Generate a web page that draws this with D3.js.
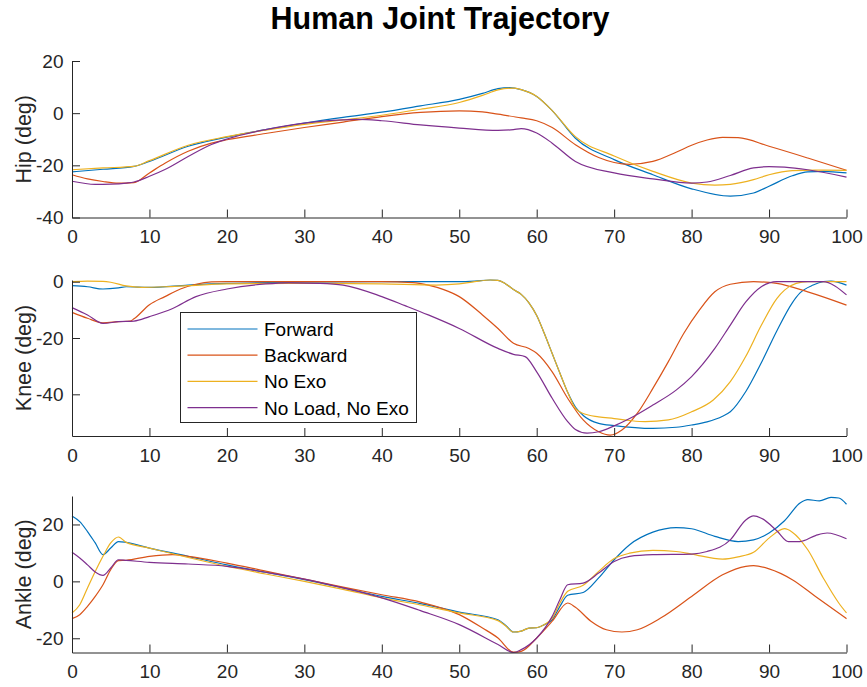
<!DOCTYPE html>
<html>
<head>
<meta charset="utf-8">
<script src="https://cdn.jsdelivr.net/npm/d3@7"></script>
<style>
    body { margin: 0; background: #fff; }
    svg { display: block; font-family: "Liberation Sans", Arial, Helvetica, sans-serif; }
</style>
</head>
<body>
<svg id="chart"></svg>
<script>
const width = 867;
const height = 687;

const seriesNames = ['Forward', 'Backward', 'No Exo', 'No Load, No Exo'];
const colors = ['#0072BD', '#D95319', '#EDB120', '#7E2F8E'];
const xTicks = [0, 10, 20, 30, 40, 50, 60, 70, 80, 90, 100];

// hip angle (deg) vs gait cycle (%)
const hipForward = [[0,-22.5],[4,-21.5],[8,-20.4],[10,-18.5],[15,-12.7],[20,-9.2],[25,-6.3],[30,-3.8],[35,-1.6],[40,0.4],[45,2.8],[50,5.3],[53,7.6],[55,9.4],[56.5,9.8],[58,9.0],[60,6.4],[62,1.0],[65,-9.6],[70,-17.8],[75,-23.6],[80,-29],[85,-31.8],[88,-30.6],[90,-28],[93,-24],[95,-22.5],[97,-22.3],[100,-22.9]];
const hipBackward = [[0,-23.6],[2,-25.2],[4,-26.2],[6,-26.8],[8,-26.6],[10,-22.9],[12,-19.2],[15,-14.6],[18,-11.5],[20,-10.2],[25,-7.8],[30,-5.5],[35,-3.4],[40,-1.3],[45,0.3],[50,0.9],[53,0.5],[55,-0.4],[58,-1.8],[60,-2.9],[62,-5.5],[65,-12.1],[68,-17],[70,-18.9],[72,-19.6],[75,-18.5],[78,-15],[80,-12.3],[82,-10.3],[84,-9.3],[86,-9.4],[90,-12.7],[95,-17.2],[100,-21.9]];
const hipNoExo = [[0,-21.7],[4,-21],[8,-20.4],[10,-18.2],[15,-12.3],[20,-9.0],[25,-6.5],[30,-4.3],[35,-2.6],[40,-0.8],[45,1.5],[50,4.1],[53,6.8],[55,8.9],[57,9.6],[58,9.0],[60,6.4],[62,1.0],[65,-9.0],[70,-16.4],[75,-22.3],[80,-26.8],[83,-27.6],[85,-27.3],[88,-25.5],[90,-23.6],[93,-22.0],[96,-21.8],[100,-21.9]];
const hipNoLoad = [[0,-26.1],[3,-27.3],[5,-27.2],[7,-26.8],[8,-26.4],[10,-24.2],[12,-21.6],[15,-16.6],[18,-12],[20,-9.9],[25,-6.3],[30,-3.8],[35,-2.6],[37,-2.4],[40,-2.9],[45,-4.5],[50,-5.7],[55,-6.6],[57,-6.3],[58,-5.9],[60,-7.6],[62,-11.5],[65,-18.5],[70,-22.9],[75,-25.2],[80,-26.8],[82,-26.4],[85,-23.9],[88,-21],[90,-20.5],[92,-20.7],[95,-21.7],[100,-24.5]];

// knee angle (deg)
const kneeForward = [[0,-1.4],[2,-1.8],[4,-2.6],[6,-2.2],[7,-1.8],[10,-2.0],[15,-1.2],[20,-0.6],[30,-0.2],[40,0],[50,0],[52,0.2],[54,0.6],[55,0.5],[56,-0.8],[57,-2.8],[58,-4.5],[59,-7.5],[60,-12],[61,-18.5],[62,-25.5],[63,-32.5],[64,-39.3],[65,-44.5],[66,-47.5],[68,-50.3],[70,-51.1],[75,-52.1],[78,-51.7],[80,-50.9],[82,-49.8],[84,-47.8],[85,-46.2],[87,-39],[89,-28.8],[91,-17.5],[93,-7.5],[94,-4],[95.7,-1.2],[97,0],[98,0.2],[100,-1.2]];
const kneeBackward = [[0,-10.9],[2,-13],[4,-14.6],[6,-14.2],[7.5,-14],[8,-13.2],[10,-8.2],[12,-5.3],[14,-2.6],[16,-0.9],[18,-0.1],[20,0],[30,0],[40,0],[44,-0.3],[46,-1.2],[48,-2.8],[50,-5.3],[53,-11.8],[55,-16.6],[57,-21.9],[59,-23.7],[60,-25.4],[62,-32],[64,-41.4],[66,-49.1],[68,-53.3],[69.5,-54.5],[71,-52.7],[73,-46.7],[75,-37.9],[77,-28.4],[79,-18.3],[81,-10.1],[83,-3.6],[85,-0.9],[88,0],[91,-0.6],[95,-3.6],[100,-8.3]];
const kneeNoExo = [[0,0],[2,0.2],[4,0.1],[5,-0.2],[7,-1.5],[9,-2],[12,-1.8],[15,-1.4],[20,-0.8],[30,-0.6],[40,-0.8],[47,-1.2],[50,-0.8],[52,0],[54,0.6],[55,0.5],[56,-0.8],[57,-2.8],[58,-4.5],[59,-7.5],[60,-12],[61,-18.5],[62,-25.5],[63,-32.5],[64,-39.3],[65,-45],[66,-46.8],[68,-48],[70,-48.6],[72,-49.3],[74,-49.7],[77,-49.1],[80,-46.2],[82.8,-42],[85,-35.5],[87,-26.5],[89,-15.5],[91,-6],[92,-3],[93.5,-0.6],[95,0],[100,0]];
const kneeNoLoad = [[0,-9.2],[2,-11.8],[4,-14.8],[6,-14.2],[8,-14],[10,-12.4],[13,-9.5],[16,-5.3],[20,-2.6],[25,-0.8],[28,-0.4],[32,-0.6],[35,-1.2],[40,-5.3],[43,-8.5],[46,-11.8],[50,-16.6],[55,-23.7],[57,-25.8],[58.5,-26.6],[60,-32],[62,-41.4],[64,-49.7],[65,-52.5],[66.5,-53.8],[68,-53.3],[70,-51.2],[72,-48.6],[75,-43.8],[78,-38.5],[80,-33.7],[83,-23.7],[85,-15.4],[87,-7.2],[89,-1.8],[91,0],[95,0],[97,0],[98.5,-1.5],[100,-4.7]];

// ankle angle (deg)
const ankleForward = [[0,23],[1,21],[2,17.5],[3,13.5],[4,9.4],[5,11.7],[6,14],[7,13.7],[10,11.7],[15,8.8],[20,5.8],[25,3.2],[30,0.6],[35,-2.3],[40,-5.3],[45,-7.8],[50,-10.8],[55,-13.5],[56,-15.5],[57,-17.8],[58,-17.5],[59,-16.4],[60,-16.3],[61,-15.2],[62,-13.5],[63,-8.8],[64,-4.9],[66,-3.9],[68,1.2],[70,7.6],[72,12.9],[75,17.3],[78,18.9],[80,18.5],[83,15.8],[86,14],[88,14.6],[90,17],[92,21.3],[94,27.5],[95,28.7],[96.5,28.3],[98,29.5],[99,29.3],[100,27.1]];
const ankleBackward = [[0,-13.1],[1,-11.7],[2,-8.8],[3,-5.3],[4,-1.2],[5,4.1],[6,7.3],[7,7.4],[10,8.8],[13,9.4],[15,8.8],[20,6.4],[25,3.6],[30,0.8],[35,-2],[40,-4.7],[45,-7.3],[50,-11.7],[53,-16.4],[55,-19.9],[57,-24.9],[58,-24.6],[60,-19.9],[62,-14],[64,-7.6],[65,-9.1],[67,-14],[69,-17],[71,-17.8],[73,-17],[76,-12.9],[80,-5.3],[84,2.3],[87,5.3],[88,5.5],[90,4.4],[93,0.6],[96,-5.3],[100,-13.1]];
const ankleNoExo = [[0,-11.1],[1,-8.2],[2,-2.3],[3,3.5],[4,8.8],[5,13.5],[6,15.6],[7,13.7],[10,11.7],[15,8.4],[20,5.3],[25,2.6],[30,0],[35,-2.8],[40,-5.8],[45,-8.3],[50,-11.1],[55,-13.8],[56,-15.7],[57,-17.8],[58,-17.5],[59,-16.4],[60,-16.3],[61,-15.2],[62,-12.9],[63,-7.6],[64,-3.5],[66,-1.4],[68,3.5],[70,8],[72,9.9],[75,10.9],[78,10.5],[80,9.6],[84,7.8],[86,8.6],[88,10.2],[90,15.2],[92,18.5],[93,17.3],[95,11.1],[97,1.2],[99,-7.6],[100,-11.1]];
const ankleNoLoad = [[0,10.2],[1,8.2],[2,5.8],[3,3.3],[4,2.1],[5,4.7],[6,7.6],[7,7.4],[10,6.7],[15,6.1],[20,5.3],[25,3.2],[30,0.8],[35,-2.3],[40,-5.8],[45,-10.3],[50,-15.2],[55,-22.2],[57,-25],[58,-24],[60,-19.9],[62,-12.3],[63,-6.4],[64,-1.2],[66,-0.6],[68,2.9],[70,7],[72,8.8],[75,9.4],[80,9.6],[82,10.5],[85,14.6],[87,21.6],[88,23],[89,22.2],[91,17.8],[92.5,14],[94,14],[96,16.1],[97.5,17],[100,15]];

const hipTicks = [-40, -20, 0, 20];
const kneeTicks = [-40, -20, 0];
const ankleTicks = [-20, 0, 20];

const panels = [
    {label: 'Hip (deg)', domain: [-40, 20], ticks: hipTicks, top: 61, bottom: 217.5,
        series: [hipForward, hipBackward, hipNoExo, hipNoLoad]},
    {label: 'Knee (deg)', domain: [-54.8, 0.6], ticks: kneeTicks, top: 280, bottom: 436,
        series: [kneeForward, kneeBackward, kneeNoExo, kneeNoLoad]},
    {label: 'Ankle (deg)', domain: [-25, 30], ticks: ankleTicks, top: 496, bottom: 652.5,
        series: [ankleForward, ankleBackward, ankleNoExo, ankleNoLoad]}
];

const axisColor = '#262626';
const left = 72;
const right = 846.5;

const svg = d3.select('#chart')
    .attr('width', width)
    .attr('height', height);

svg.append('rect').attr('width', width).attr('height', height).attr('fill', '#fff');

svg.append('text')
    .attr('x', 440)
    .attr('y', 28.5)
    .attr('text-anchor', 'middle')
    .attr('font-size', 30.5)
    .attr('font-weight', 'bold')
    .attr('fill', '#000')
    .text('Human Joint Trajectory');

const x = d3.scaleLinear().domain([0, 100]).range([left, right]);

panels.forEach((p, i) => {
    const y = d3.scaleLinear().domain(p.domain).range([p.bottom, p.top]);
    const g = svg.append('g');

    const line = d3.line()
        .x(d => x(d[0]))
        .y(d => y(d[1]))
        .curve(d3.curveMonotoneX);

    g.selectAll('path.series').data(p.series)
        .enter()
        .append('path')
        .attr('class', 'series')
        .attr('fill', 'none')
        .attr('stroke', (d, k) => colors[k])
        .attr('stroke-width', 1.2)
        .attr('d', line);

    const xAxis = g.append('g')
        .attr('transform', `translate(0, ${p.bottom})`)
        .call(d3.axisBottom(x).tickValues(xTicks).tickSizeInner(-8).tickSizeOuter(0).tickPadding(12.5)
            .tickFormat(d => String(d)));

    const yAxis = g.append('g')
        .attr('transform', `translate(${left}, 0)`)
        .call(d3.axisLeft(y).tickValues(p.ticks).tickSizeInner(-8).tickSizeOuter(0).tickPadding(8.5)
            .tickFormat(d => String(d)));

    [xAxis, yAxis].forEach(a => {
        a.attr('font-family', null).attr('font-size', 19);
        a.selectAll('path, line').attr('stroke', axisColor);
        a.selectAll('text').attr('fill', axisColor);
    });

    svg.append('text')
        .attr('transform', `translate(31, ${(p.top + p.bottom) / 2}) rotate(-90)`)
        .attr('text-anchor', 'middle')
        .attr('font-size', 21.5)
        .attr('fill', axisColor)
        .text(p.label);
});

// legend in the knee panel
const legend = svg.append('g');
legend.append('rect')
    .attr('x', 180.5).attr('y', 312.5)
    .attr('width', 236).attr('height', 110)
    .attr('fill', '#fff')
    .attr('stroke', axisColor)
    .attr('stroke-width', 1);

seriesNames.forEach((name, k) => {
    const ly = 329 + k * 26.2;
    legend.append('line')
        .attr('x1', 187.5).attr('x2', 257.5)
        .attr('y1', ly).attr('y2', ly)
        .attr('stroke', colors[k])
        .attr('stroke-width', 1.2);
    legend.append('text')
        .attr('x', 264)
        .attr('y', ly + 7)
        .attr('font-size', 19)
        .attr('fill', '#000')
        .text(name);
});
</script>
</body>
</html>
